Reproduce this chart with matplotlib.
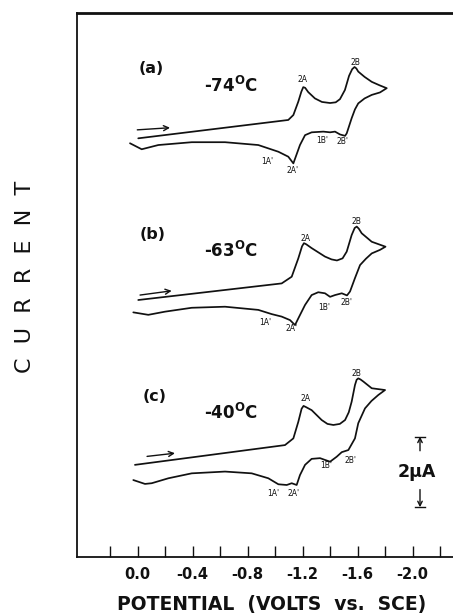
import matplotlib
matplotlib.use("Agg")
import matplotlib.pyplot as plt

# ---------------- data (potential in V vs. SCE, current in uA with panel offset) -------------
pot_a = [-0.004, -1.095, -1.132, -1.168, -1.190, -1.204, -1.218, -1.240, -1.289, -1.340,
         -1.399, -1.440, -1.471, -1.507, -1.537, -1.560, -1.577, -1.590, -1.604, -1.650,
         -1.702, -1.760, -1.811,
         -1.762, -1.702, -1.650, -1.604, -1.580, -1.556, -1.520,
         -1.508, -1.471, -1.435, -1.399, -1.350, -1.265, -1.217, -1.180, -1.132, -1.095,
         -1.023, -0.877, -0.635, -0.393, -0.150, -0.029, 0.056]
cur_a = [11.86, 12.38, 12.52, 12.90, 13.18, 13.31, 13.29, 13.17, 12.99, 12.89,
         12.86, 12.88, 12.97, 13.23, 13.63, 13.82, 13.88, 13.84, 13.75, 13.60,
         13.46, 13.36, 13.28,
         13.16, 13.09, 12.99, 12.85, 12.68, 12.43, 12.00,
         11.93, 11.97, 12.05, 12.03, 12.05, 12.03, 11.95, 11.67, 11.15, 11.34,
         11.48, 11.67, 11.75, 11.75, 11.67, 11.55, 11.72]

pot_b = [-0.004, -1.047, -1.120, -1.168, -1.195, -1.209, -1.225, -1.265, -1.362, -1.410,
         -1.449, -1.490, -1.520, -1.556, -1.578, -1.593, -1.608, -1.629, -1.702, -1.802,
         -1.762, -1.702, -1.660, -1.617, -1.580, -1.544, -1.522,
         -1.484, -1.435, -1.399, -1.362, -1.313, -1.265, -1.217, -1.168, -1.144, -1.108,
         -1.047, -0.975, -0.877, -0.635, -0.393, -0.199, -0.077, 0.032]
cur_b = [7.28, 7.75, 7.94, 8.46, 8.80, 8.89, 8.86, 8.75, 8.51, 8.43,
         8.40, 8.46, 8.65, 9.12, 9.32, 9.36, 9.30, 9.17, 8.93, 8.79,
         8.70, 8.60, 8.45, 8.27, 7.90, 7.52, 7.41,
         7.47, 7.42, 7.37, 7.47, 7.50, 7.42, 7.14, 6.76, 6.57, 6.71,
         6.81, 6.88, 7.00, 7.09, 7.06, 6.95, 6.86, 6.93]

pot_c = [0.020, -1.071, -1.132, -1.168, -1.192, -1.206, -1.222, -1.265, -1.338, -1.380,
         -1.423, -1.470, -1.508, -1.535, -1.556, -1.580, -1.592, -1.604, -1.620, -1.641,
         -1.702, -1.799,
         -1.750, -1.700, -1.653, -1.604, -1.580, -1.532,
         -1.484, -1.447, -1.399, -1.362, -1.326, -1.265, -1.217, -1.180, -1.156, -1.120,
         -1.084, -1.023, -0.950, -0.829, -0.635, -0.393, -0.223, -0.102, -0.053, 0.032]
cur_c = [2.61, 3.17, 3.36, 3.83, 4.20, 4.28, 4.25, 4.16, 3.88, 3.77,
         3.74, 3.77, 3.88, 4.10, 4.40, 4.87, 5.02, 5.06, 5.03, 4.97,
         4.78, 4.73,
         4.59, 4.42, 4.21, 3.79, 3.36, 3.03,
         2.97, 2.84, 2.70, 2.75, 2.80, 2.78, 2.61, 2.32, 2.04, 2.09,
         2.04, 2.06, 2.23, 2.37, 2.42, 2.37, 2.23, 2.09, 2.07, 2.18]

panel_tags = ["(a)", "(b)", "(c)"]
temperatures = ["-74", "-63", "-40"]

# peak labels: (text, potential, current)
peak_labels_a = [("2A", -1.202, 13.54), ("2B", -1.581, 14.02), ("1A'", -0.940, 11.19),
                 ("2A'", -1.126, 10.95), ("1B'", -1.344, 11.81), ("2B'", -1.486, 11.78)]
peak_labels_b = [("2A", -1.217, 9.03), ("2B", -1.593, 9.51), ("1A'", -0.926, 6.63),
                 ("2A'", -1.122, 6.46), ("1B'", -1.355, 7.08), ("2B'", -1.520, 7.22)]
peak_labels_c = [("2A", -1.217, 4.48), ("2B", -1.588, 5.21), ("1A'", -0.984, 1.81),
                 ("2A'", -1.132, 1.81), ("1B'", -1.373, 2.58), ("2B'", -1.551, 2.72)]

# scan-direction arrows (start potential, start current, end potential, end current)
scan_arrows = [(0.003, 12.10, -0.235, 12.16),
               (-0.017, 7.42, -0.247, 7.54),
               (-0.068, 2.85, -0.271, 2.94)]

tag_pos = [(-0.095, 13.83), (-0.107, 9.14), (-0.12, 4.54)]
temp_pos = [(-0.677, 13.35), (-0.677, 8.68), (-0.677, 4.09)]

major_ticks = [0.0, -0.4, -0.8, -1.2, -1.6, -2.0]
major_labels = ["0.0", "-0.4", "-0.8", "-1.2", "-1.6", "-2.0"]
minor_ticks = [0.2, -0.2, -0.6, -1.0, -1.4, -1.8, -2.2]

scale_bar_potential = -2.053
scale_bar_low, scale_bar_high = 1.41, 3.41   # 2 uA

# ---------------- figure -------------
fig = plt.figure(figsize=(4.53, 6.15), dpi=100)
ax = fig.add_axes([77 / 453, 58 / 615, 376 / 453, 544 / 615])
ax.set_xlim(0.4415, -2.293)
ax.set_ylim(0, 15.41)

ink = "#111111"
for p, c in [(pot_a, cur_a), (pot_b, cur_b), (pot_c, cur_c)]:
    assert len(p) == len(c)
    ax.plot(p, c, color=ink, lw=1.25, solid_joinstyle="round", solid_capstyle="round")

for (x0, y0, x1, y1) in scan_arrows:
    ax.annotate("", xy=(x1, y1), xytext=(x0, y0),
                arrowprops=dict(arrowstyle="->", lw=1.0, color=ink,
                                shrinkA=0, shrinkB=0, mutation_scale=9))

for tag, (x, y) in zip(panel_tags, tag_pos):
    ax.text(x, y, tag, fontsize=11.5, fontweight="bold", ha="center", va="center", color=ink)

for t, (x, y) in zip(temperatures, temp_pos):
    ax.text(x, y, t + r"$^{\mathbf{O}}$C", fontsize=12, fontweight="bold",
            ha="center", va="center", color=ink)

for labels in (peak_labels_a, peak_labels_b, peak_labels_c):
    for txt, x, y in labels:
        ax.text(x, y, txt, fontsize=5.5, ha="center", va="center", color=ink)

# scale bar
hw = 0.036
ax.plot([scale_bar_potential - hw, scale_bar_potential + hw], [scale_bar_high] * 2, color=ink, lw=1.0)
ax.plot([scale_bar_potential - hw, scale_bar_potential + hw], [scale_bar_low] * 2, color=ink, lw=1.0)
ax.annotate("", xy=(scale_bar_potential, scale_bar_high), xytext=(scale_bar_potential, scale_bar_high - 0.40),
            arrowprops=dict(arrowstyle="->", lw=1.0, color=ink, shrinkA=0, shrinkB=0, mutation_scale=8))
ax.annotate("", xy=(scale_bar_potential, scale_bar_low), xytext=(scale_bar_potential, scale_bar_low + 0.50),
            arrowprops=dict(arrowstyle="->", lw=1.0, color=ink, shrinkA=0, shrinkB=0, mutation_scale=8))
ax.text(scale_bar_potential + 0.02, (scale_bar_low + scale_bar_high) / 2, "2\u03bcA",
        fontsize=12.5, fontweight="bold", ha="center", va="center", color=ink)

# axes styling
ax.set_xticks(major_ticks)
ax.set_xticklabels(major_labels, fontsize=10.5, fontweight="bold", color=ink)
ax.set_xticks(minor_ticks, minor=True)
ax.tick_params(axis="x", which="both", direction="in", length=8, width=1.0, color=ink, pad=7)
ax.set_yticks([])
ax.spines["right"].set_visible(False)
ax.spines["top"].set_linewidth(2.0)
ax.spines["left"].set_linewidth(1.3)
ax.spines["bottom"].set_linewidth(1.3)
for s in ax.spines.values():
    s.set_color(ink)

ax.set_xlabel("POTENTIAL  (VOLTS  vs.  SCE)", fontsize=13.5, fontweight="bold", color=ink)
ax.xaxis.set_label_coords(0.517, -0.088)
ax.xaxis.label.set_verticalalignment("center")
ax.set_ylabel("C  U  R  R  E  N  T", fontsize=16, color=ink)
ax.yaxis.set_label_coords(-0.1396, 0.515)
ax.yaxis.label.set_verticalalignment("center")

fig.savefig("out.png", dpi=100)
